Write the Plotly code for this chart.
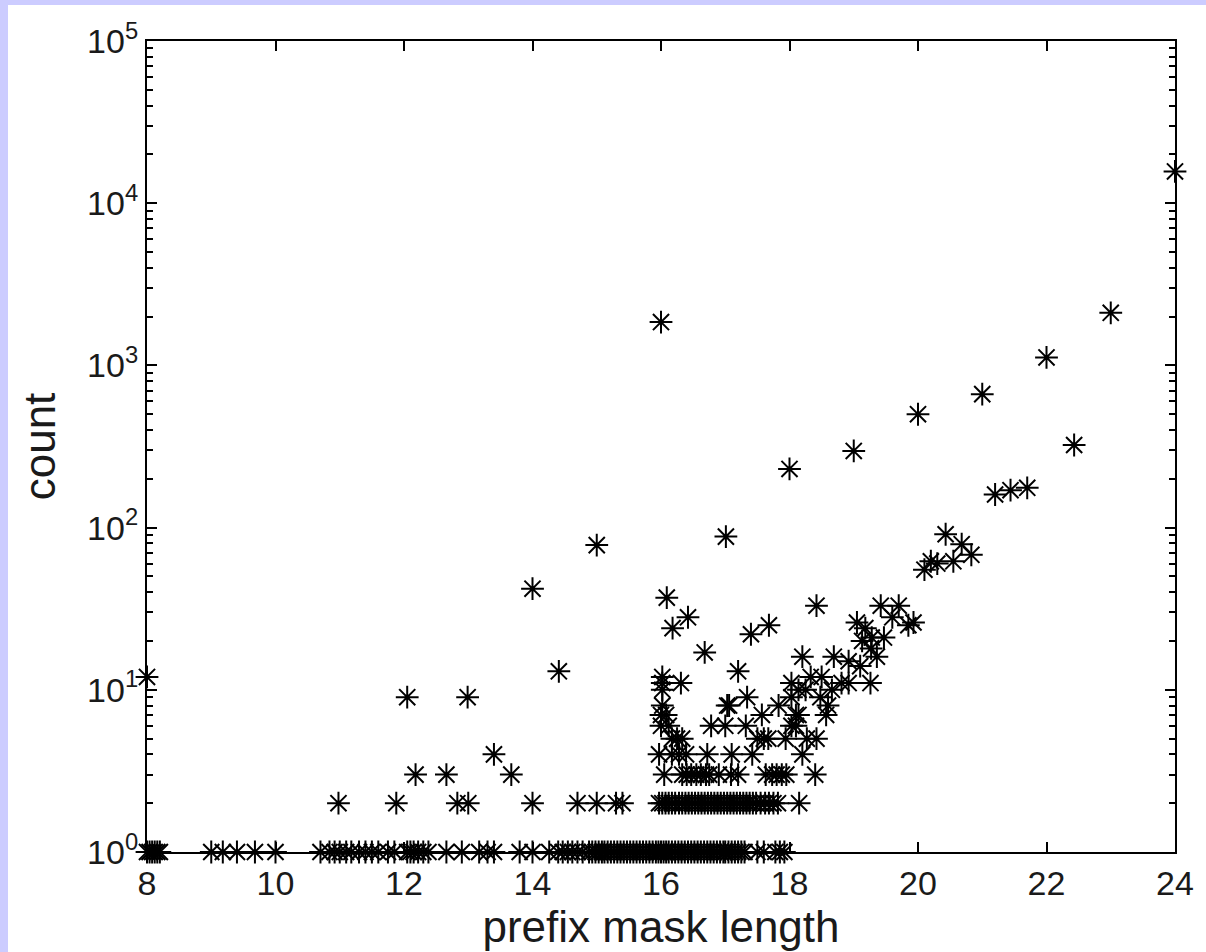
import plotly.graph_objects as go

# ---- data ----
# points with count == 1
ones_x = [8.0, 8.04, 8.08, 8.12, 8.16, 8.2, 9.0, 9.18, 9.4, 9.68, 10.0,
          10.7, 10.84, 10.92, 11.0, 11.1, 11.18, 11.3, 11.4, 11.5, 11.6, 11.75, 11.85,
          12.05, 12.1, 12.15, 12.22, 12.3, 12.38, 12.66, 12.9, 13.17, 13.3, 13.4,
          13.8, 14.0, 14.26, 14.4, 14.47, 14.55, 14.62, 14.7, 14.78,
          14.88, 14.93, 14.98, 15.03, 15.08, 15.12, 15.17, 15.22, 15.27, 15.32,
          15.37, 15.42, 15.47, 15.52, 15.57, 15.62, 15.67, 15.72, 15.77, 15.82,
          15.87, 15.92, 15.96, 16.0, 16.04, 16.08, 16.12, 16.17, 16.22, 16.27,
          16.32, 16.37, 16.42, 16.47, 16.52, 16.57, 16.62, 16.67, 16.72, 16.77,
          16.82, 16.87, 16.92, 16.97, 17.0, 17.05, 17.1, 17.15, 17.2, 17.25, 17.3,
          17.5, 17.6, 17.78, 17.85, 17.92]
# points with count == 2
twos_x = [10.98, 11.88, 12.83, 13.0, 14.0, 14.7, 15.0, 15.3, 15.4,
          15.97, 16.02, 16.07, 16.12, 16.17, 16.22, 16.28, 16.33, 16.38, 16.43,
          16.48, 16.53, 16.58, 16.63, 16.68, 16.73, 16.78, 16.83, 16.88, 16.93,
          16.98, 17.03, 17.08, 17.13, 17.18, 17.23, 17.28, 17.33, 17.38, 17.43,
          17.48, 17.55, 17.62, 17.68, 17.75, 17.82, 18.15]
# points with count == 3
threes_x = [12.18, 12.66, 13.67, 16.05, 16.33, 16.4, 16.47, 16.55, 16.62, 16.7,
            16.75, 16.9, 17.09, 17.2, 17.63, 17.73, 17.8, 17.88, 17.95, 18.4]
# points with count == 4
fours_x = [13.4, 15.97, 16.17, 16.28, 16.39, 16.72, 17.1, 17.42, 18.2]
# points with count == 5
fives_x = [16.17, 16.25, 16.33, 17.5, 17.6, 17.67, 17.94, 18.27, 18.42]
# points with count == 6
sixes_x = [16.0, 16.12, 16.78, 17.0, 17.32, 18.03, 18.1]
# points with count == 7
sevens_x = [16.0, 16.08, 17.57, 18.1, 18.14, 18.57]
# points with count == 8
eights_x = [16.02, 17.03, 17.06, 17.83, 18.6]
# points with count == 9
nines_x = [12.05, 12.99, 17.34, 18.03, 18.48]

# remaining scattered points (x, count)
other_x = [8.0, 14.41, 17.2, 16.02, 16.31, 18.03, 18.81, 18.92, 19.26,
           16.02, 18.14, 18.25, 18.66, 18.33, 18.5, 16.02,
           18.2, 18.69, 18.92, 19.1, 19.36, 19.27, 19.13, 19.28, 19.47, 19.18,
           19.05, 19.85, 19.93, 19.6, 19.42, 19.7, 16.68, 16.18, 17.4, 16.42,
           17.68, 18.42, 16.09, 14.0, 15.0, 17.01, 18.0, 19.0, 20.0, 21.0,
           22.0, 23.0, 24.0, 16.0, 22.43, 21.2, 21.44, 21.7, 20.43, 20.68,
           20.83, 20.55, 20.2, 20.3, 20.1]
other_y = [12, 13, 13, 10, 11, 11, 11, 11, 11,
           12, 10, 10, 10, 12, 12, 11,
           16, 16, 15, 14, 16, 18, 20, 21, 21, 24,
           26, 25, 26, 28, 33, 33, 17, 24, 22, 28,
           25, 33, 37, 42, 78, 88, 230, 297, 500, 665,
           1120, 2110, 15700, 1850, 323, 160, 170, 176, 91, 79,
           68, 62, 62, 60, 55]

x_ticks = [8, 10, 12, 14, 16, 18, 20, 22, 24]
y_tickvals = [1, 10, 100, 1000, 10000, 100000]
y_ticktext = ["10<sup>0</sup>", "10<sup>1</sup>", "10<sup>2</sup>",
              "10<sup>3</sup>", "10<sup>4</sup>", "10<sup>5</sup>"]

# ---- assemble ----
xs, ys = [], []
for row, val in [(ones_x, 1), (twos_x, 2), (threes_x, 3), (fours_x, 4), (fives_x, 5),
                 (sixes_x, 6), (sevens_x, 7), (eights_x, 8), (nines_x, 9)]:
    xs += row
    ys += [val] * len(row)
xs += other_x
ys += other_y

FONT = "Liberation Sans, Arial, sans-serif"
TXT = "#1a1a1a"

fig = go.Figure()
fig.add_trace(go.Scatter(
    x=xs, y=ys, mode="markers", cliponaxis=False,
    marker=dict(symbol="asterisk-open", size=19, color="black",
                line=dict(color="rgba(0,0,0,0.85)", width=2)),
    showlegend=False, hoverinfo="x+y"))

axis_common = dict(showline=True, linecolor="black", linewidth=2, mirror="ticks",
                   ticks="inside", ticklen=10, tickwidth=2, tickcolor="black",
                   showgrid=False, zeroline=False,
                   tickfont=dict(family=FONT, size=34, color=TXT))

fig.update_xaxes(range=[8, 24], tickvals=x_ticks, ticktext=[str(v) for v in x_ticks],
                 title=dict(text="prefix mask length", standoff=2,
                            font=dict(family=FONT, size=44, color=TXT)),
                 **axis_common)
fig.update_yaxes(type="log", range=[0, 5], tickvals=y_tickvals, ticktext=y_ticktext,
                 minor=dict(ticks="inside", ticklen=6, tickwidth=1.5, tickcolor="black",
                            dtick="D1", showgrid=False),
                 title=dict(text="count", standoff=18,
                            font=dict(family=FONT, size=44, color=TXT)),
                 **axis_common)

# page is offset by the lavender strip (left 8 px, top 5 px)
fig.update_layout(
    width=1198, height=947,
    margin=dict(l=139, r=28, t=32, b=100),
    paper_bgcolor="white", plot_bgcolor="white",
)

fig.write_html(
    "out.html",
    post_script=("document.body.style.margin='5px 0 0 8px';"
                 "document.body.style.background='#ccccff';"
                 "document.body.style.overflow='hidden';"),
)
